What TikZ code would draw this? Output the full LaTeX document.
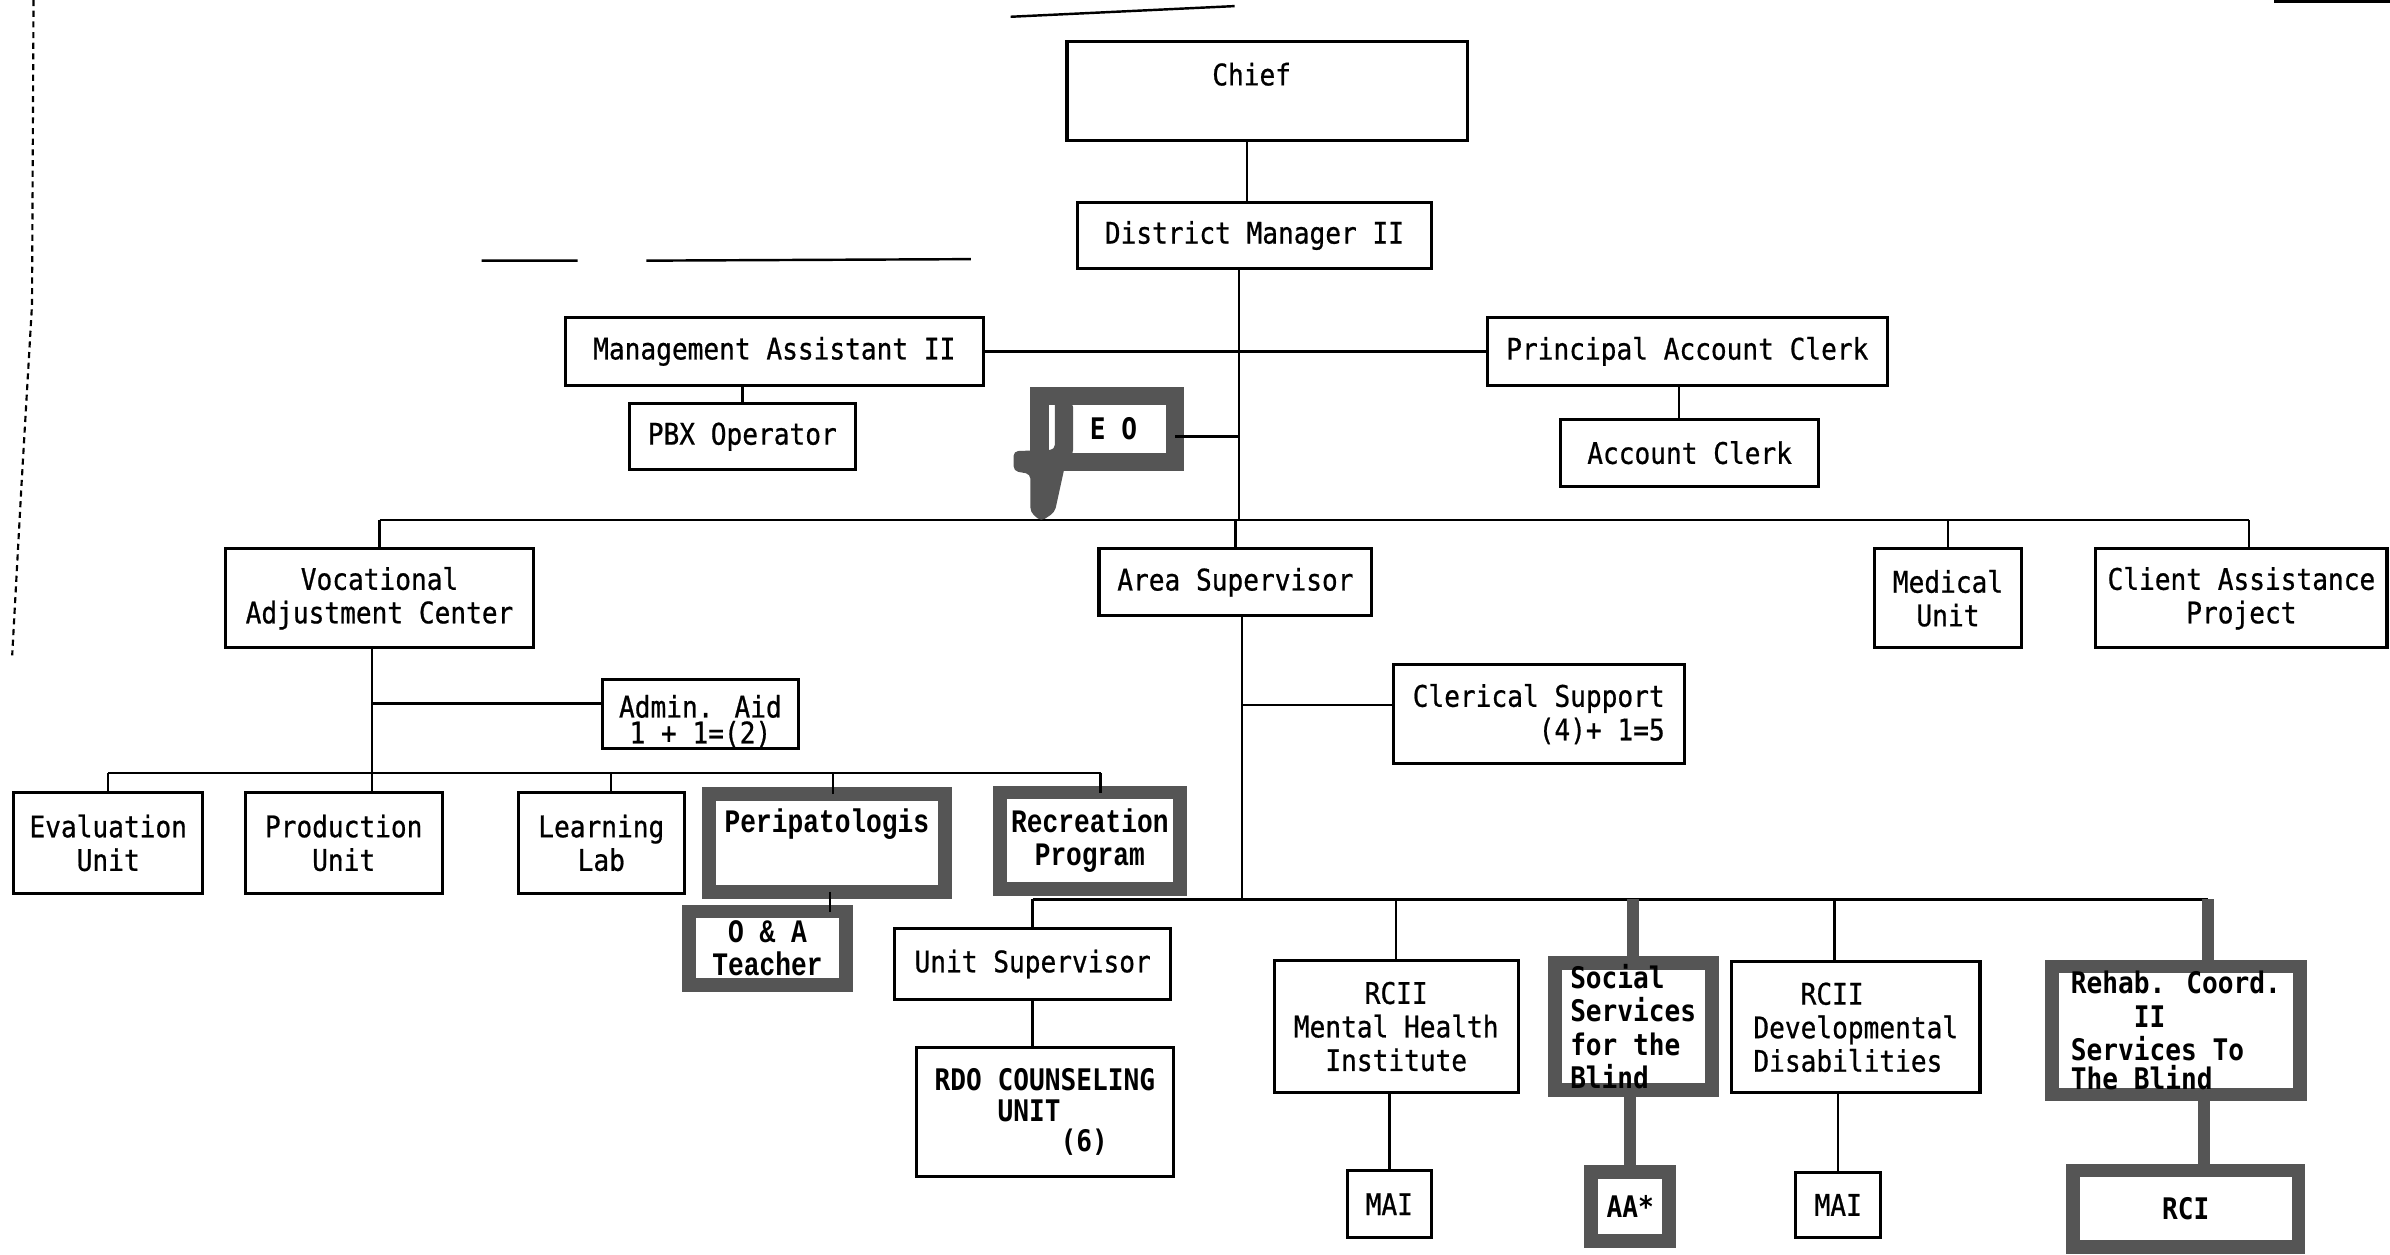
\documentclass[tikz,border=0pt]{standalone}
\usepackage{fontspec}
\setmainfont{DejaVu Sans Mono}[FakeStretch=0.88, UprightFeatures={FakeBold=0.7}]
\newfontfamily\typeserif{Liberation Mono}[FakeStretch=0.8]
\definecolor{marker}{RGB}{85,85,85}
\tikzset{
  box/.style={draw, line width=2pt, inner sep=0pt, outer sep=0pt, align=center, anchor=north west},
  penbox/.style={box, draw=marker, line width=9pt, font=\fontsize{19.5}{22}\selectfont\bfseries},
  serifpen/.style={font=\typeserif\fontsize{21.5}{22}\selectfont\bfseries},
  link/.style={line width=1.6pt},
  penlink/.style={draw=marker, line width=8pt},
}
\begin{document}
\begin{tikzpicture}[x=1pt, y=-1pt, font=\fontsize{19.5}{22}\selectfont]
\useasboundingbox (0,0) rectangle (1568,823);
% stray marks of the scan
\draw[line width=1.6pt] (663,11) -- (810,4);
\draw[line width=1.6pt] (316,171) -- (379,171) (424,171) -- (637,170);
\draw[line width=2pt] (1492,1) -- (1568,1);
\draw[line width=1.4pt, dash pattern=on 4pt off 3pt] (22,0) -- (21,200) -- (14,320) -- (8,430);

% head office
\node[box, minimum width=263, minimum height=65, text height=29pt, text depth=36pt] (chief) at (700,27) {Chief\phantom{MM}};
\node[box, minimum width=232, minimum height=43] (dm) at (707,133) {District Manager II};
\node[box, minimum width=274, minimum height=45] (mgmt) at (371,208) {Management Assistant II};
\node[box, minimum width=262, minimum height=45] (pac) at (976,208) {Principal Account Clerk};
\node[box, minimum width=148, minimum height=43] (pbx) at (413,265) {PBX Operator};
\node[box, minimum width=169, minimum height=44] (acct) at (1024,275) {Account Clerk};
\node[penbox, line width=12pt, minimum width=89, minimum height=43] (eeo) at (682,260) {\hspace*{8pt}E O};

% divisions
\node[box, minimum width=202, minimum height=65] (vac) at (148,360) {Vocational\\Adjustment Center};
\node[box, minimum width=179, minimum height=44] (area) at (721,360) {Area Supervisor};
\node[box, minimum width=96, minimum height=65] (med) at (1230,360) {Medical\\Unit};
\node[box, minimum width=191, minimum height=65] (cap) at (1375,360) {Client Assistance\\Project};
\node[box, minimum width=129, minimum height=45] (aid) at (395,446) {\rule{0pt}{24pt}Admin. Aid\\[-5pt]1 + 1=(2)};
\node[box, align=right, minimum width=191, minimum height=65] (cler) at (914,436) {Clerical Support\\(4)+ 1=5};

% adjustment center units
\node[box, minimum width=124, minimum height=66] (eval) at (9,520) {Evaluation\\Unit};
\node[box, minimum width=129, minimum height=66] (prod) at (161,520) {Production\\Unit};
\node[box, minimum width=109, minimum height=66] (learn) at (340,520) {Learning\\Lab};
\node[penbox, serifpen, minimum width=155, minimum height=64] (peri) at (465,521) {Peripatologis\\\strut};
\node[penbox, serifpen, minimum width=118, minimum height=63] (recr) at (656,520) {Recreation\\Program};
\node[penbox, serifpen, minimum width=103, minimum height=48] (oat) at (452,598) {O \& A\\Teacher};

% area units
\node[box, minimum width=181, minimum height=47] (unitsup) at (587,609) {Unit Supervisor};
\node[box, align=left, font=\fontsize{19.5}{20}\selectfont\bfseries, minimum width=169, minimum height=85] (rdo) at (601,687) {RDO COUNSELING\\\phantom{RDOC}UNIT\\\phantom{RDO COUN}(6)};
\node[box, minimum width=160, minimum height=87] (rcmh) at (836,630) {RCII\\Mental Health\\Institute};
\node[penbox, align=left, minimum width=103, minimum height=83] (soc) at (1020,632) {Social\\Services\\for the\\Blind};
\node[box, align=left, minimum width=163, minimum height=86] (rcdd) at (1136,631) {\phantom{RCI}RCII\\Developmental\\Disabilities};
\node[penbox, align=left, minimum width=163, minimum height=84] (rehab) at (1346,634) {Rehab. Coord.\\\phantom{Reha}II\\Services To\\[-3pt]The Blind};
\node[box, minimum width=55, minimum height=44] (maimh) at (884,768) {MAI};
\node[penbox, minimum width=51, minimum height=45] (aa) at (1044,769) {AA*};
\node[box, minimum width=56, minimum height=43] (maidd) at (1178,769) {MAI};
\node[penbox, minimum width=148, minimum height=50] (rci) at (1360,768) {RCI};

% connectors
\coordinate (bus1) at (813,341);
\coordinate (bus2) at (244,507);
\coordinate (bus3) at (815,590);
\draw[link] ([xshift=-13.5pt]chief.south) -- ([xshift=-13.5pt]chief.south |- dm.north);
\draw[link] ([xshift=-10pt]dm.south) -- (bus1);
\draw[link] (mgmt.east) -- (pac.west);
\draw[link] (pbx.north) -- (pbx.north |- mgmt.south);
\draw[link] ([xshift=-7pt]acct.north) -- ([xshift=-7pt]acct.north |- pac.south);
\draw[link] ([yshift=-5pt]eeo.east) -- ([yshift=-5pt]eeo.east -| bus1);
\draw[link] (vac.north |- bus1) -- ([xshift=5pt]cap.north |- bus1);
\draw[link] (vac.north) -- (vac.north |- bus1);
\draw[link] (area.north) -- (area.north |- bus1);
\draw[link] (med.north) -- (med.north |- bus1);
\draw[link] ([xshift=5pt]cap.north) -- ([xshift=5pt]cap.north |- bus1);

\draw[link] ([xshift=-5pt]vac.south) -- ([xshift=-5pt]vac.south |- prod.north);
\draw[link] ([yshift=7pt]aid.west) -- ([yshift=7pt]aid.west -| bus2);
\draw[link] (eval.north |- bus2) -- ([xshift=7pt]recr.north |- bus2);
\draw[link] (eval.north) -- (eval.north |- bus2);
\draw[link] ([xshift=6.5pt]learn.north) -- ([xshift=6.5pt]learn.north |- bus2);
\draw[link] ([xshift=4pt]peri.north) -- ([xshift=4pt]peri.north |- bus2);
\draw[link] ([xshift=7pt]recr.north) -- ([xshift=7pt]recr.north |- bus2);
\draw[link] ([xshift=2pt]peri.south) -- ([xshift=2pt]peri.south |- oat.north);

\draw[link] ([xshift=4.5pt]area.south) -- ([xshift=4.5pt]area.south |- bus3);
\draw[link] ([yshift=6pt]cler.west) -- ([yshift=6pt]cler.west -| bus3);
\draw[link] (unitsup.north |- bus3) -- ([xshift=21pt]rehab.north |- bus3);
\draw[link] (unitsup.north) -- (unitsup.north |- bus3);
\draw[link] (rcmh.north) -- (rcmh.north |- bus3);
\draw[link] ([xshift=-14pt]rcdd.north) -- ([xshift=-14pt]rcdd.north |- bus3);
\draw[penlink] (soc.north) -- (soc.north |- bus3);
\draw[penlink] ([xshift=21pt]rehab.north) -- ([xshift=21pt]rehab.north |- bus3);
\draw[link] (unitsup.south) -- (unitsup.south |- rdo.north);
\draw[link] (maimh.north) -- (maimh.north |- rcmh.south);
\draw[penlink] (aa.north) -- (aa.north |- soc.south);
\draw[link] (maidd.north) -- (maidd.north |- rcdd.south);
\draw[penlink] ([xshift=12pt]rci.north) -- ([xshift=12pt]rci.north |- rehab.south);

% marker blot on the E O box
\fill[marker, rounded corners=3pt] (665,296) -- (692,295) -- (692,262) -- (704,264) -- (704,298) -- (699,304) -- (692,336) -- (683,342) -- (676,336) -- (676,311) -- (665,309) -- cycle;
\end{tikzpicture}
\end{document}
